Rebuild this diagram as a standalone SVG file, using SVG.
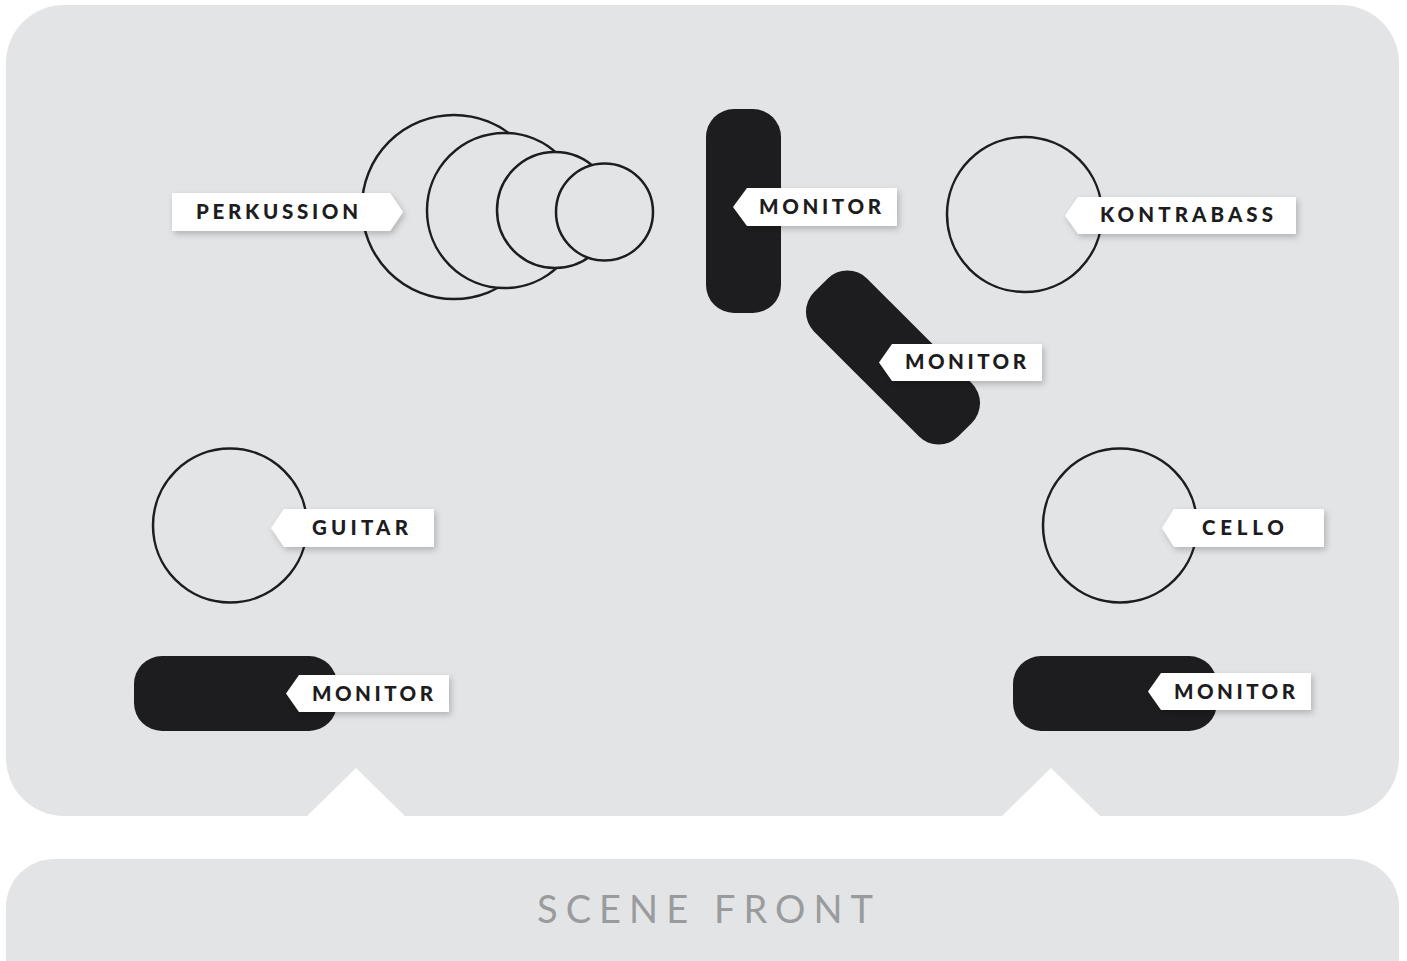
<svg xmlns="http://www.w3.org/2000/svg" width="1407" height="961" viewBox="0 0 1407 961">
  <style>
    .stage { fill: #e3e4e6; }
    .notch { fill: #ffffff; }
    .inst { fill: #e3e4e6; stroke: #1d1c1e; stroke-width: 2.5; }
    .mon { fill: #1d1c1e; }
    .tag { fill: #ffffff; filter: url(#sh); }
    .lbl { font-family: Lato, "Open Sans", "Liberation Sans", sans-serif; font-weight: 900; font-size: 20.5px; fill: #1d1c1e; }
    .front { font-family: Lato, "Open Sans", "Liberation Sans", sans-serif; font-weight: 400; font-size: 38px; fill: #9a9b9d; }
  </style>
  <defs>
    <filter id="sh" x="-20%" y="-50%" width="140%" height="220%">
      <feDropShadow dx="2" dy="3" stdDeviation="3" flood-color="#000000" flood-opacity="0.22"/>
    </filter>
  </defs>

  <rect width="1407" height="961" fill="#ffffff"/>

  <g id="stage">
    <rect class="stage" x="6" y="5" width="1393" height="811" rx="58" ry="58"/>
    <polygon class="notch" points="306,817 356,768 406,817"/>
    <polygon class="notch" points="1001,817 1051,768 1101,817"/>
  </g>

  <g id="scene-front">
    <rect class="stage" x="6" y="859" width="1393" height="150" rx="48" ry="48"/>
    <text class="front" x="537" y="923" textLength="336" lengthAdjust="spacing">SCENE FRONT</text>
  </g>

  <g id="connectors"></g>

  <g id="perkussion">
    <circle class="inst" cx="454" cy="207" r="92"/>
    <circle class="inst" cx="504.5" cy="210.5" r="77.5"/>
    <circle class="inst" cx="555" cy="210" r="58"/>
    <circle class="inst" cx="604.5" cy="212" r="48.5"/>
    <path class="tag" d="M172,193 L390,193 L403,212 L390,231 L172,231 Z"/>
    <text class="lbl" x="196" y="219" textLength="162" lengthAdjust="spacing">PERKUSSION</text>
  </g>

  <g id="monitor-center">
    <rect class="mon" x="706" y="109" width="75" height="204" rx="28" ry="28"/>
    <path class="tag" d="M733,207 L747,188 L897,188 L897,226 L747,226 Z"/>
    <text class="lbl" x="759" y="214" textLength="122" lengthAdjust="spacing">MONITOR</text>
  </g>

  <g id="monitor-diagonal">
    <rect class="mon" x="-37.5" y="-102" width="75" height="204" rx="28" ry="28" transform="translate(893,357.5) rotate(-45)"/>
    <path class="tag" d="M879,362.5 L892,344 L1042,344 L1042,381 L892,381 Z"/>
    <text class="lbl" x="905" y="369" textLength="121" lengthAdjust="spacing">MONITOR</text>
  </g>

  <g id="kontrabass">
    <circle class="inst" cx="1024.5" cy="214.5" r="77.5"/>
    <path class="tag" d="M1065,215.5 L1078,197 L1296,197 L1296,234 L1078,234 Z"/>
    <text class="lbl" x="1100" y="222" textLength="173" lengthAdjust="spacing">KONTRABASS</text>
  </g>

  <g id="guitar">
    <circle class="inst" cx="230" cy="525.5" r="77"/>
    <path class="tag" d="M271,528 L284,509 L434,509 L434,547 L284,547 Z"/>
    <text class="lbl" x="312" y="535" textLength="96" lengthAdjust="spacing">GUITAR</text>
  </g>

  <g id="cello">
    <circle class="inst" cx="1120" cy="525.5" r="77"/>
    <path class="tag" d="M1162,528 L1174,509 L1324,509 L1324,547 L1174,547 Z"/>
    <text class="lbl" x="1202" y="535" textLength="82" lengthAdjust="spacing">CELLO</text>
  </g>

  <g id="monitor-left">
    <rect class="mon" x="134" y="656" width="203" height="75" rx="28" ry="28"/>
    <path class="tag" d="M286,693.5 L299,675 L449,675 L449,712 L299,712 Z"/>
    <text class="lbl" x="312" y="701" textLength="121" lengthAdjust="spacing">MONITOR</text>
  </g>

  <g id="monitor-right">
    <rect class="mon" x="1013" y="656" width="204" height="75" rx="28" ry="28"/>
    <path class="tag" d="M1148,691.5 L1161,673 L1311,673 L1311,710 L1161,710 Z"/>
    <text class="lbl" x="1174" y="699" textLength="121" lengthAdjust="spacing">MONITOR</text>
  </g>
</svg>
